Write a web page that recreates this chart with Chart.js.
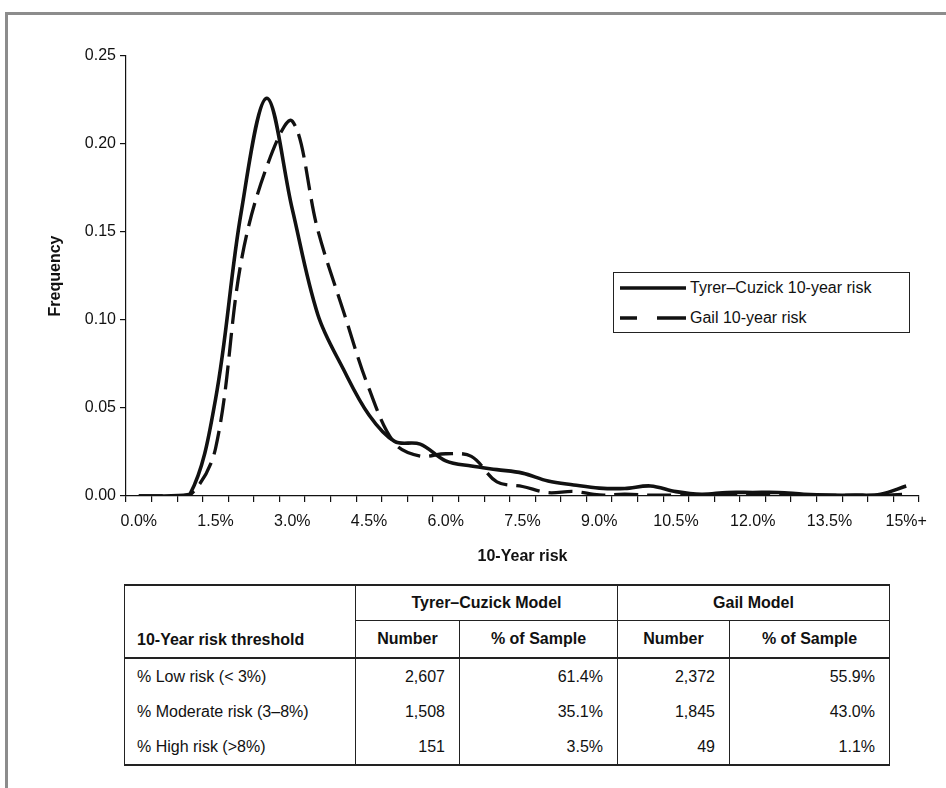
<!DOCTYPE html>
<html>
<head>
<meta charset="utf-8">
<script src="https://cdn.jsdelivr.net/npm/chart.js@4.4.0/dist/chart.umd.min.js"></script>
<style>
  html, body { margin:0; padding:0; background:#fff; width:946px; height:788px; overflow:hidden;
    font-family:"Liberation Sans", Arial, Helvetica, sans-serif; color:#111; }
  #frame { position:absolute; left:5px; top:12px; width:980px; height:820px;
    border-top:3px solid #8c8c8c; border-left:3px solid #8c8c8c; }
  #wrap { position:absolute; left:0; top:0; width:946px; height:580px; }
  #legend { position:absolute; left:613px; top:272px; width:297px; height:61px;
    border:1.5px solid #222; box-sizing:border-box; background:#fff; }
  .lg-item { position:absolute; left:0; height:20px; width:290px; }
  .lg-item svg { position:absolute; left:5px; top:0; }
  .lg-item span { position:absolute; left:76px; top:0; line-height:20px; font-size:16px; white-space:nowrap; }
  table { position:absolute; left:124px; top:584px; width:765px; border-collapse:collapse;
    table-layout:fixed; font-size:16px; color:#111; }
  td, th { padding:0; }
  th { font-weight:bold; }
  .h1 th { height:34px; }
  .h2 th { height:36px; }
  tbody td { height:35px; }
  .top { border-top:2px solid #222; }
  .thick { border-bottom:2px solid #222; }
  .mid { border-bottom:1.5px solid #222; }
  .bl { border-left:1.5px solid #222; }
  .br { border-right:1.5px solid #222; }
  .num { text-align:right; padding-right:14px; }
  .lab { text-align:left; padding-left:12px; }
  .last td { border-bottom:2px solid #222; }
</style>
</head>
<body>
<div id="frame"></div>
<div id="wrap"><canvas id="c" width="946" height="580"></canvas></div>

<div id="legend">
  <div class="lg-item" style="top:5px;">
    <svg width="70" height="20"><line x1="1" y1="10" x2="67" y2="10" stroke="#111" stroke-width="3.5"/></svg>
    <span>Tyrer–Cuzick 10-year risk</span>
  </div>
  <div class="lg-item" style="top:35px;">
    <svg width="70" height="20"><line x1="1" y1="10" x2="18" y2="10" stroke="#111" stroke-width="3.5"/><line x1="38" y1="10" x2="67" y2="10" stroke="#111" stroke-width="3.5"/></svg>
    <span>Gail 10-year risk</span>
  </div>
</div>

<table>
  <colgroup>
    <col style="width:231px"><col style="width:104px"><col style="width:158px"><col style="width:112px"><col style="width:160px">
  </colgroup>
  <thead>
    <tr class="h1">
      <th rowspan="2" class="top thick bl br lab" style="vertical-align:bottom;padding-bottom:8px;">10-Year risk threshold</th>
      <th colspan="2" class="top mid br">Tyrer–Cuzick Model</th>
      <th colspan="2" class="top mid br">Gail Model</th>
    </tr>
    <tr class="h2">
      <th class="thick br">Number</th>
      <th class="thick br">% of Sample</th>
      <th class="thick br">Number</th>
      <th class="thick br">% of Sample</th>
    </tr>
  </thead>
  <tbody id="tb"></tbody>
</table>

<script>
// ---- Data ----
const riskLabels = ['0.0%','0.5%','1.0%','1.5%','2.0%','2.5%','3.0%','3.5%','4.0%','4.5%',
  '5.0%','5.5%','6.0%','6.5%','7.0%','7.5%','8.0%','8.5%','9.0%','9.5%',
  '10.0%','10.5%','11.0%','11.5%','12.0%','12.5%','13.0%','13.5%','14.0%','14.5%','15%+'];
const tyrerCuzick = [0, 0, 0.001, 0.055, 0.161, 0.226, 0.163, 0.103, 0.072, 0.046,
  0.031, 0.0295, 0.020, 0.017, 0.015, 0.013, 0.0085, 0.0063, 0.0045, 0.0043,
  0.0057, 0.0025, 0.001, 0.002, 0.002, 0.002, 0.001, 0.0005, 0.0005, 0.001, 0.0057];
const gail = [0, 0, 0.0005, 0.027, 0.133, 0.187, 0.213, 0.151, 0.105, 0.061,
  0.030, 0.0227, 0.024, 0.0225, 0.008, 0.0054, 0.0019, 0.0026, 0.0006, 0.001,
  0.0005, 0.0004, 0.0003, 0.0003, 0.0003, 0.0003, 0.0003, 0.0003, 0.0003, 0.0003, 0.001];
const yTickStep = 0.05;
const seriesNames = ['Tyrer–Cuzick 10-year risk', 'Gail 10-year risk'];

// ---- Table data ----
const thresholdRows = ['% Low risk (< 3%)', '% Moderate risk (3–8%)', '% High risk (>8%)'];
const tcNumber = ['2,607', '1,508', '151'];
const tcPercent = ['61.4%', '35.1%', '3.5%'];
const gailNumber = ['2,372', '1,845', '49'];
const gailPercent = ['55.9%', '43.0%', '1.1%'];

const tb = document.getElementById('tb');
thresholdRows.forEach((r, i) => {
  const tr = document.createElement('tr');
  if (i === thresholdRows.length - 1) tr.className = 'last';
  tr.innerHTML = `<td class="lab bl br">${r}</td><td class="num br">${tcNumber[i]}</td>` +
    `<td class="num br">${tcPercent[i]}</td><td class="num br">${gailNumber[i]}</td>` +
    `<td class="num br">${gailPercent[i]}</td>`;
  tb.appendChild(tr);
});

const FONT = '"Liberation Sans", Arial, Helvetica, sans-serif';
Chart.defaults.font.family = FONT;
Chart.defaults.color = '#111';

new Chart(document.getElementById('c'), {
  type: 'line',
  data: {
    labels: riskLabels,
    datasets: [
      { label: seriesNames[0], data: tyrerCuzick, borderColor: '#111', borderWidth: 3.6,
        pointRadius: 0, tension: 0.35, fill: false },
      { label: seriesNames[1], data: gail, borderColor: '#111', borderWidth: 3.3,
        borderDash: [24, 9], pointRadius: 0, tension: 0.35, fill: false }
    ]
  },
  options: {
    responsive: false,
    animation: false,
    layout: { padding: { left: 0, right: 27, top: 56, bottom: 14 } },
    plugins: { legend: { display: false }, tooltip: { enabled: false } },
    scales: {
      x: {
        type: 'category',
        offset: true,
        grid: { offset: true, drawOnChartArea: false, drawTicks: true, tickLength: 6, color: '#111', lineWidth: 1.2 },
        border: { display: true, color: '#111', width: 1.2 },
        ticks: { autoSkip: false, maxRotation: 0, minRotation: 0, padding: 10, color: '#111',
          font: { size: 16 },
          callback: (v, i) => (i % 3 === 0 ? riskLabels[i] : '') },
        title: { display: true, text: '10-Year risk', color: '#111',
          font: { size: 16, weight: 'bold' }, padding: { top: 0, bottom: 0 } },
        afterFit: (s) => { s.height = 70; }
      },
      y: {
        min: 0, max: 0.25,
        grid: { drawOnChartArea: false, drawTicks: true, tickLength: 6, color: '#111', lineWidth: 1.2 },
        border: { display: true, color: '#111', width: 1.2 },
        ticks: { stepSize: yTickStep, padding: 4, color: '#111', font: { size: 16 },
          callback: (v) => Number(v).toFixed(2) },
        title: { display: true, text: 'Frequency', color: '#111',
          font: { size: 16, weight: 'bold' }, padding: { top: 46, bottom: 0 } },
        afterFit: (s) => { s.width = 126; }
      }
    }
  }
});
</script>
</body>
</html>
